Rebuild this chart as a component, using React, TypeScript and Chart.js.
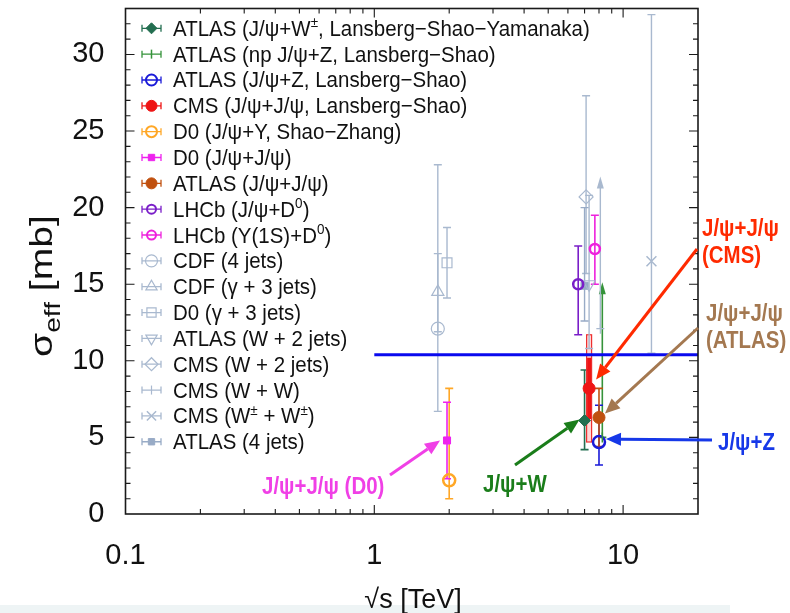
import React, { useEffect, useRef } from 'react';
import { Chart, registerables } from 'chart.js';
import { drawPoint } from 'chart.js/helpers';

Chart.register(...registerables);

const FONT = "'Liberation Sans', Arial, Helvetica, sans-serif";

// ---------- data ----------
const seriesLabels = [
  'ATLAS (J/ψ+W^{±}, Lansberg−Shao−Yamanaka)',
  'ATLAS (np J/ψ+Z, Lansberg−Shao)',
  'ATLAS (J/ψ+Z, Lansberg−Shao)',
  'CMS (J/ψ+J/ψ, Lansberg−Shao)',
  'D0 (J/ψ+Υ, Shao−Zhang)',
  'D0 (J/ψ+J/ψ)',
  'ATLAS (J/ψ+J/ψ)',
  'LHCb (J/ψ+D^{0})',
  'LHCb (Υ(1S)+D^{0})',
  'CDF (4 jets)',
  'CDF (γ + 3 jets)',
  'D0 (γ + 3 jets)',
  'ATLAS (W + 2 jets)',
  'CMS (W + 2 jets)',
  'CMS (W + W)',
  'CMS (W^{±} + W^{±})',
  'ATLAS (4 jets)',
];
const seriesColors = [
  '#236e50', '#35933a', '#1a1ad8', '#ee1515', '#ffa726', '#ee22ee', '#c0500f', '#7a1ec8', '#ee22dd',
  '#a9b9cf', '#a9b9cf', '#a9b9cf', '#a9b9cf', '#a9b9cf', '#a9b9cf', '#a9b9cf', '#98abc6',
];
const sqrtS = [7.0, 8.25, 8.0, 7.3, 2.0, 1.96, 8.0, 6.6, 7.7, 1.8, 1.8, 1.96, 7.3, 7.1, 8.1, 13.0, 7.0];
const sigmaEff = [6.1, 5.0, 4.7, 8.2, 2.2, 4.8, 6.3, 15.0, 17.3, 12.1, 14.5, 16.4, 15.0, 20.7, 12.1, 16.5, 14.9];
const errHigh = [9.4, 15.0, 7.1, 11.7, 8.2, 7.3, 8.2, 17.5, 19.5, 22.8, 17.0, 18.7, 20.8, 27.3, 21.9, 32.6, 20.0];
const errLow = [4.2, 5.0, 3.2, 4.7, 1.0, 2.3, 4.4, 11.7, 15.0, 6.7, 11.9, 14.1, 10.8, 15.7, 12.1, 10.5, 12.6];
const limitArrow = [false, true, false, false, false, false, false, false, false, false, false, false, false, false, true, false, false];
const markerStyle = ['rectRot', 'line', 'circle', 'circle', 'circle', 'rect', 'circle', 'circle', 'circle',
  'circle', 'triangle', 'rect', 'triangle', 'rectRot', 'line', 'crossRot', 'rect'];
const markerRotation = [0, 90, 0, 0, 0, 0, 0, 0, 0, 0, 0, 0, 180, 0, 90, 0, 0];
const markerFilled = [true, false, false, true, false, true, true, false, false, false, false, false, false, false, false, false, true];
const markerRadius = [6, 5, 6, 6, 6, 5, 6, 5, 5, 6.5, 7, 7, 7, 7, 5, 7, 5];
const markerBorder = [1, 1.5, 2.5, 1, 2.5, 1, 1, 2.5, 2.5, 1.2, 1.2, 1.2, 1.2, 1.2, 1.2, 1.5, 1];
const cmsStatRange = [6.2, 10.2];
const xTickValues = [0.1, 1, 10];
const yTickValues = [0, 5, 10, 15, 20, 25, 30];
const referenceLineValue = 10.4;
const referenceLineStart = 1;

type Note = { lines: string[]; color: string; tx: number; ty: number[]; tail: [number, number]; target: number; off: [number, number] };
const notes: Note[] = [
  { lines: ['J/ψ+J/ψ (D0)'], color: '#f040e6', tx: 262, ty: [494], tail: [390, 475], target: 5, off: [-7, 0] },
  { lines: ['J/ψ+W'], color: '#1a7d1a', tx: 483, ty: [492], tail: [515, 465], target: 0, off: [-5, -1] },
  { lines: ['J/ψ+J/ψ', '(CMS)'], color: '#ff2a00', tx: 702, ty: [236, 263], tail: [697, 249], target: 3, off: [7, -9] },
  { lines: ['J/ψ+J/ψ', '(ATLAS)'], color: '#a47850', tx: 706, ty: [321, 348], tail: [698, 328], target: 6, off: [6, -4] },
  { lines: ['J/ψ+Z'], color: '#1638e8', tx: 718, ty: [450], tail: [712, 440], target: 2, off: [7, -3] },
];

function drawRich(ctx: CanvasRenderingContext2D, text: string, x: number, y: number, size: number, weight = '', sub = 0.66) {
  const parts = text.split(/(\^\{[^}]*\}|_\{[^}]*\})/);
  let cx = x;
  for (const p of parts) {
    if (!p) continue;
    let t = p, s = size, dy = 0;
    if (p.startsWith('^{')) { t = p.slice(2, -1); s = size * sub; dy = -size * 0.4; }
    else if (p.startsWith('_{')) { t = p.slice(2, -1); s = size * sub; dy = size * 0.25; }
    ctx.font = `${weight} ${s}px ${FONT}`;
    ctx.fillText(t, cx, y + dy);
    cx += ctx.measureText(t).width;
  }
  return cx - x;
}
function richWidth(ctx: CanvasRenderingContext2D, text: string, size: number, weight = '', sub = 0.66) {
  const parts = text.split(/(\^\{[^}]*\}|_\{[^}]*\})/);
  let w = 0;
  for (const p of parts) {
    if (!p) continue;
    let t = p, s = size;
    if (p.startsWith('^{') || p.startsWith('_{')) { t = p.slice(2, -1); s = size * sub; }
    ctx.font = `${weight} ${s}px ${FONT}`;
    w += ctx.measureText(t).width;
  }
  return w;
}

function arrow(ctx: CanvasRenderingContext2D, x1: number, y1: number, x2: number, y2: number, color: string, lw: number, head: number, hw: number) {
  const a = Math.atan2(y2 - y1, x2 - x1);
  const bx = x2 - head * Math.cos(a), by = y2 - head * Math.sin(a);
  ctx.strokeStyle = color; ctx.fillStyle = color; ctx.lineWidth = lw;
  ctx.beginPath(); ctx.moveTo(x1, y1); ctx.lineTo(bx, by); ctx.stroke();
  ctx.beginPath();
  ctx.moveTo(x2, y2);
  ctx.lineTo(bx + hw * Math.sin(a), by - hw * Math.cos(a));
  ctx.lineTo(bx - hw * Math.sin(a), by + hw * Math.cos(a));
  ctx.closePath(); ctx.fill();
}

const zeroPad = (s: any) => { s.paddingTop = 0; s.paddingBottom = 0; s.paddingLeft = 0; s.paddingRight = 0; };

const physicsPlugin = {
  id: 'physicsDeco',
  beforeDraw(chart: any) {
    const { ctx } = chart;
    ctx.save();
    ctx.fillStyle = '#eef4f5';
    ctx.fillRect(0, 605, 730, 8);
    ctx.restore();
  },
  beforeDatasetsDraw(chart: any) {
    const { ctx, scales: { x, y } } = chart;
    ctx.save();
    for (let i = 0; i < sqrtS.length; i++) {
      const px = x.getPixelForValue(sqrtS[i]);
      const top = y.getPixelForValue(errHigh[i]);
      const bot = y.getPixelForValue(errLow[i]);
      const c = seriesColors[i];
      if (i === 3) {
        ctx.fillStyle = 'rgba(255,90,90,0.25)';
        ctx.strokeStyle = '#ee3030';
        ctx.lineWidth = 1.2;
        ctx.fillRect(px - 2.5, top, 5, bot - top);
        ctx.strokeRect(px - 2.5, top, 5, bot - top);
        ctx.strokeStyle = c; ctx.lineWidth = 4;
        ctx.beginPath();
        ctx.moveTo(px, y.getPixelForValue(cmsStatRange[1]));
        ctx.lineTo(px, y.getPixelForValue(cmsStatRange[0]));
        ctx.stroke();
        continue;
      }
      ctx.strokeStyle = c;
      ctx.lineWidth = i < 9 ? 1.6 : 1.4;
      ctx.beginPath();
      ctx.moveTo(px, bot); ctx.lineTo(px, limitArrow[i] ? top + 8 : top);
      ctx.moveTo(px - 4, bot); ctx.lineTo(px + 4, bot);
      if (!limitArrow[i]) { ctx.moveTo(px - 4, top); ctx.lineTo(px + 4, top); }
      ctx.stroke();
      if (limitArrow[i]) {
        ctx.fillStyle = c;
        ctx.beginPath();
        ctx.moveTo(px, top - 2); ctx.lineTo(px - 3.5, top + 10); ctx.lineTo(px + 3.5, top + 10);
        ctx.closePath(); ctx.fill();
      }
    }
    ctx.restore();
  },
  afterDatasetsDraw(chart: any) {
    const { ctx, chartArea: ca, scales: { x, y } } = chart;
    ctx.save();
    ctx.strokeStyle = '#0a0aee';
    ctx.lineWidth = 3;
    const yy = y.getPixelForValue(referenceLineValue);
    ctx.beginPath();
    ctx.moveTo(x.getPixelForValue(referenceLineStart), yy);
    ctx.lineTo(ca.right, yy);
    ctx.stroke();
    ctx.restore();
  },
  afterDraw(chart: any) {
    const { ctx, chartArea: ca, scales: { x, y } } = chart;
    ctx.save();
    // frame
    ctx.strokeStyle = '#1a1a1a';
    ctx.lineWidth = 1.6;
    ctx.strokeRect(ca.left, ca.top, ca.right - ca.left, ca.bottom - ca.top);
    // y ticks
    ctx.lineWidth = 1.1;
    ctx.beginPath();
    for (let v = 1; v <= 33; v++) {
      const py = y.getPixelForValue(v);
      const len = v % 5 === 0 ? 9 : 5;
      ctx.moveTo(ca.left, py); ctx.lineTo(ca.left + len, py);
      ctx.moveTo(ca.right, py); ctx.lineTo(ca.right - len, py);
    }
    // x ticks
    for (const dec of [0.1, 1, 10]) {
      for (let m = 1; m <= 9; m++) {
        const v = dec * m;
        if (v <= 0.1 || v >= 20) continue;
        const px = x.getPixelForValue(v);
        const len = m === 1 ? 9 : 5;
        ctx.moveTo(px, ca.bottom); ctx.lineTo(px, ca.bottom - len);
        ctx.moveTo(px, ca.top); ctx.lineTo(px, ca.top + len);
      }
    }
    ctx.stroke();

    // legend
    const rowTop = 28.3, rowStep = 25.84;
    for (let i = 0; i < seriesLabels.length; i++) {
      const yc = rowTop + i * rowStep;
      const c = seriesColors[i];
      ctx.strokeStyle = c; ctx.lineWidth = 1.3;
      ctx.beginPath();
      ctx.moveTo(142, yc); ctx.lineTo(161, yc);
      ctx.moveTo(142, yc - 3.5); ctx.lineTo(142, yc + 3.5);
      ctx.moveTo(161, yc - 3.5); ctx.lineTo(161, yc + 3.5);
      ctx.stroke();
      ctx.fillStyle = markerFilled[i] ? c : 'rgba(0,0,0,0)';
      ctx.strokeStyle = c;
      ctx.lineWidth = Math.min(markerBorder[i], 2);
      drawPoint(ctx, { pointStyle: markerStyle[i] as any, rotation: markerRotation[i], radius: Math.max(markerRadius[i] - 0.5, 4.5), borderWidth: Math.min(markerBorder[i], 2) }, 151.5, yc);
      ctx.fillStyle = '#111';
      ctx.textBaseline = 'alphabetic';
      ctx.textAlign = 'left';
      ctx.save();
      ctx.translate(173, yc + 7.5);
      ctx.scale(0.975, 1.04);
      drawRich(ctx, seriesLabels[i], 0, 0, 21);
      ctx.restore();
    }

    // annotations
    for (const n of notes) {
      const tx = x.getPixelForValue(sqrtS[n.target]) + n.off[0];
      const ty = y.getPixelForValue(sigmaEff[n.target]) + n.off[1];
      arrow(ctx, n.tail[0], n.tail[1], tx, ty, n.color, 3, 15, 6.5);
      ctx.fillStyle = n.color;
      ctx.font = `bold 22px ${FONT}`;
      ctx.textAlign = 'left';
      ctx.textBaseline = 'alphabetic';
      n.lines.forEach((l, k) => {
        ctx.save();
        ctx.translate(n.tx, n.ty[k]);
        ctx.scale(0.93, 1.05);
        ctx.fillText(l, 0, 0);
        ctx.restore();
      });
    }

    // axis titles
    ctx.fillStyle = '#111';
    ctx.font = `27px ${FONT}`;
    ctx.textAlign = 'center';
    ctx.textBaseline = 'alphabetic';
    ctx.fillText('√s [TeV]', 413, 608);

    ctx.save();
    ctx.translate(0, 286);
    ctx.rotate(-Math.PI / 2);
    const ytitle = 'σ_{eff} [mb]';
    const w = richWidth(ctx, ytitle, 31, '', 0.72);
    const stretch = 142 / w;
    ctx.scale(stretch, 1);
    ctx.textAlign = 'left';
    drawRich(ctx, ytitle, -w / 2, 52, 31, '', 0.72);
    ctx.restore();

    ctx.restore();
  },
};

export default function App() {
  const ref = useRef<HTMLCanvasElement | null>(null);
  useEffect(() => {
    if (!ref.current) return;
    const datasets = seriesLabels.map((label, i) => ({
      label,
      data: [{ x: sqrtS[i], y: sigmaEff[i] }],
      pointStyle: markerStyle[i] as any,
      pointRotation: markerRotation[i],
      pointRadius: markerRadius[i],
      pointBorderWidth: markerBorder[i],
      borderColor: seriesColors[i],
      backgroundColor: markerFilled[i] ? seriesColors[i] : 'rgba(0,0,0,0)',
      showLine: false,
    }));
    const chart = new Chart(ref.current, {
      type: 'scatter',
      data: { datasets },
      options: {
        responsive: false,
        animation: false,
        layout: { padding: { top: 7, right: 92, left: 0, bottom: 0 } },
        plugins: { legend: { display: false }, tooltip: { enabled: false } },
        scales: {
          x: {
            type: 'logarithmic',
            min: 0.1,
            max: 20,
            grid: { display: false },
            border: { display: false },
            afterBuildTicks: (s: any) => { s.ticks = xTickValues.map((v) => ({ value: v })); },
            afterFit: (s: any) => { s.height = 99; zeroPad(s); },
            ticks: {
              callback: (v: any) => String(v),
              font: { size: 29, family: FONT },
              color: '#111',
              padding: 17,
              maxRotation: 0,
              autoSkip: false,
            },
          },
          y: {
            type: 'linear',
            min: 0,
            max: 33,
            grid: { display: false },
            border: { display: false },
            afterBuildTicks: (s: any) => { s.ticks = yTickValues.map((v) => ({ value: v })); },
            afterFit: (s: any) => { s.width = 125.5; zeroPad(s); },
            ticks: { font: { size: 29, family: FONT }, color: '#111', padding: 13 },
          },
        },
      },
      plugins: [physicsPlugin],
    });
    return () => chart.destroy();
  }, []);
  return (
    <div style={{ position: 'absolute', left: 0, top: 0, width: 790, height: 613 }}>
      <canvas ref={ref} width={790} height={613} style={{ display: 'block' }} />
    </div>
  );
}
